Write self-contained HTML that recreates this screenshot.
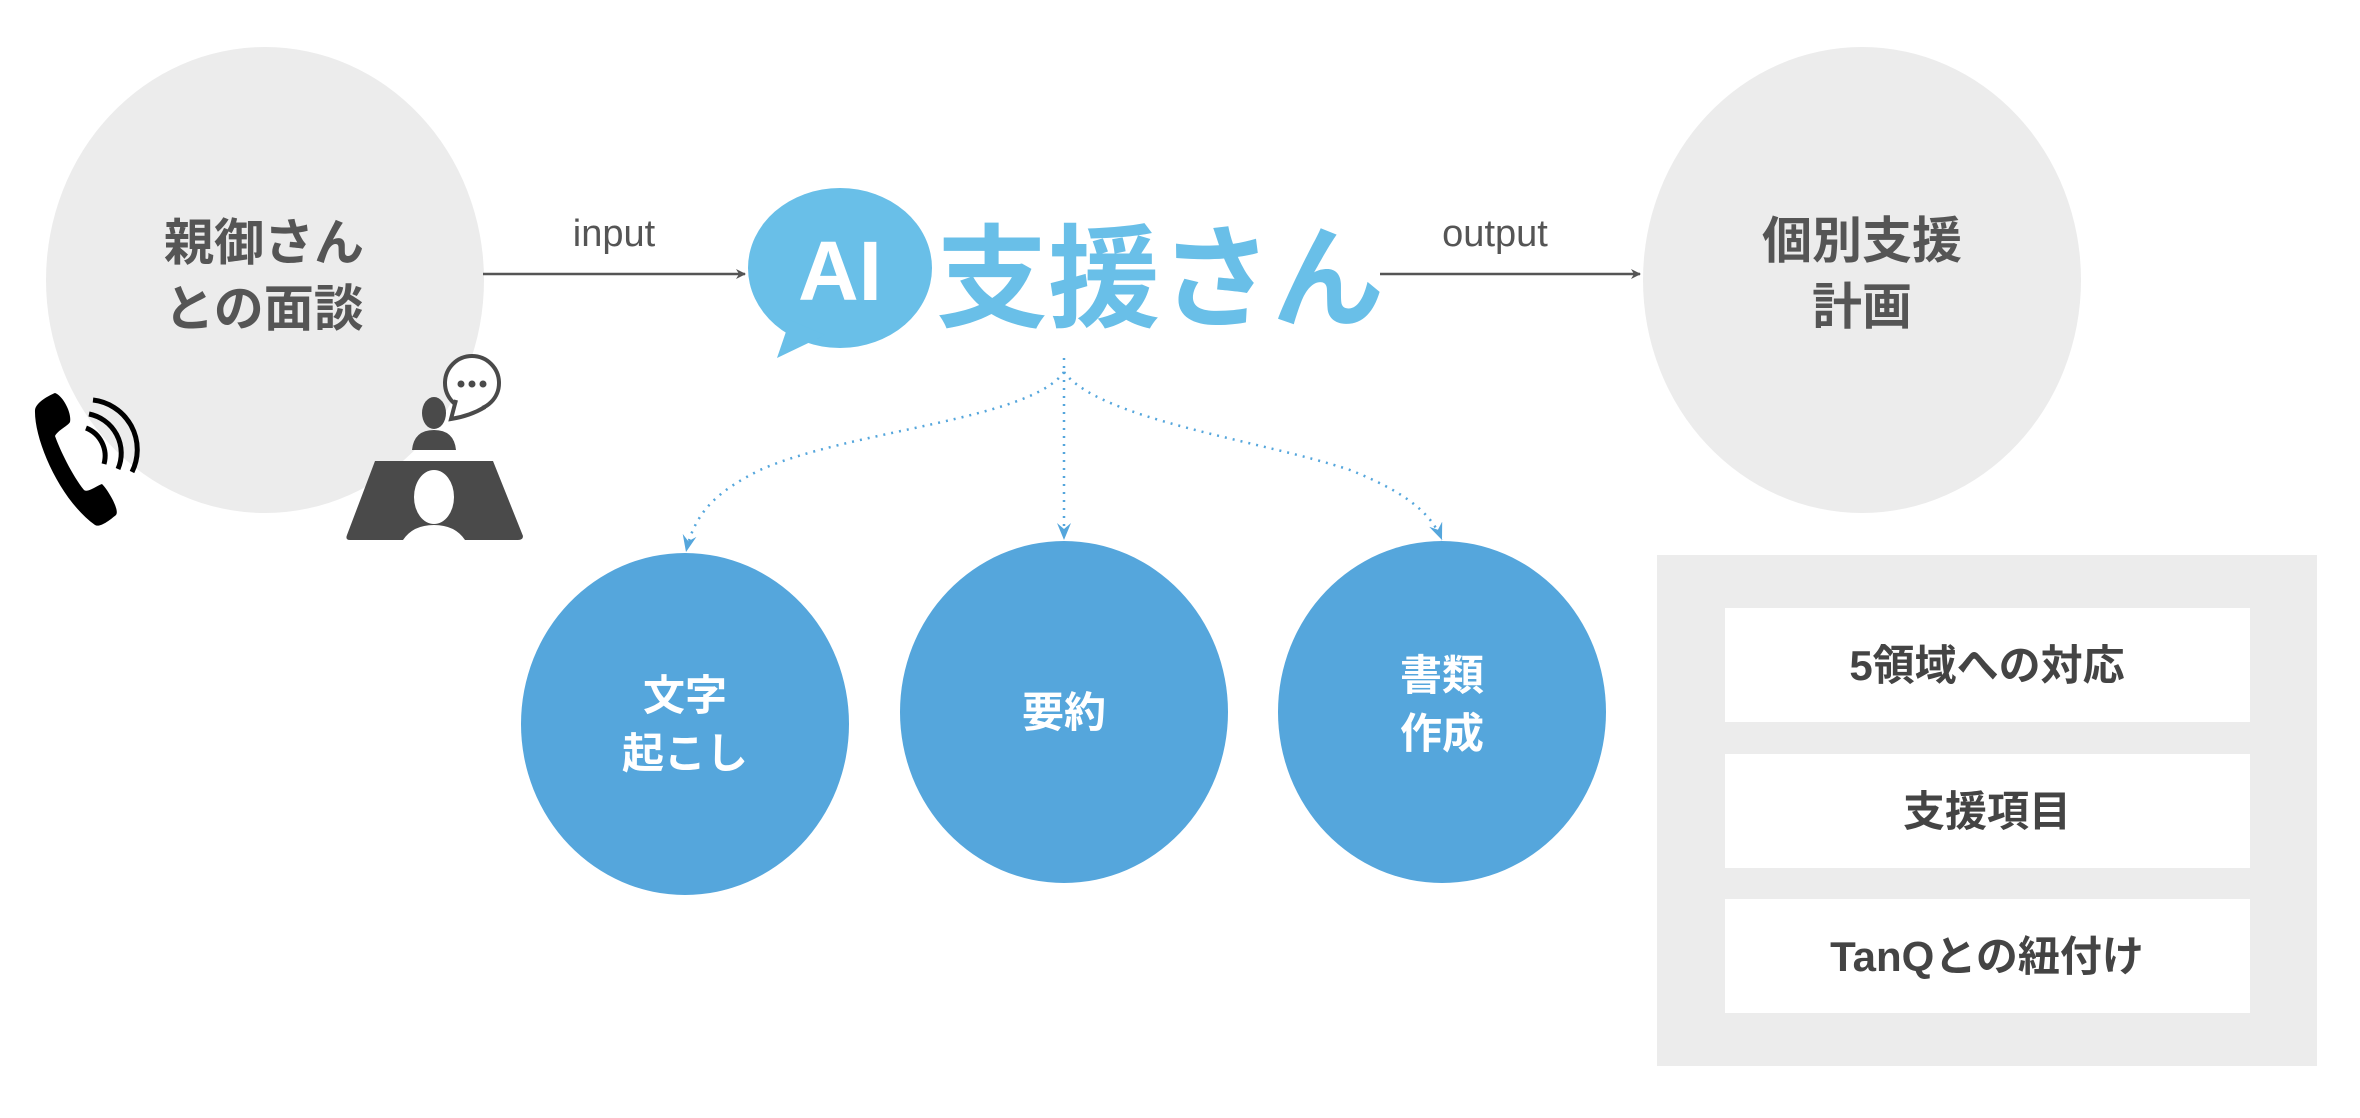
<!DOCTYPE html>
<html><head><meta charset="utf-8"><style>
html,body{margin:0;padding:0;background:#fff;}
svg{display:block;}
text{font-family:"Liberation Sans","Noto Sans CJK JP",sans-serif;}
</style></head><body>
<svg width="2360" height="1118" viewBox="0 0 2360 1118" xmlns="http://www.w3.org/2000/svg">
<defs>
<marker id="ag" markerWidth="10" markerHeight="10" refX="9" refY="5" orient="auto" markerUnits="userSpaceOnUse"><path d="M0,0 L10,5 L0,10 L3,5 Z" fill="#555"/></marker>
<marker id="ab" markerWidth="18" markerHeight="14" refX="17" refY="7" orient="auto" markerUnits="userSpaceOnUse"><path d="M0,0 L17,7 L0,14 L6,7 Z" fill="#55a6dc"/></marker>
</defs>
<ellipse cx="265" cy="280" rx="219" ry="233" fill="#ececec"/>
<text x="264" y="260" font-size="50" font-weight="bold" fill="#555" text-anchor="middle">親御さん</text>
<text x="264" y="326" font-size="50" font-weight="bold" fill="#555" text-anchor="middle">との面談</text>
<g fill="#000">
<path d="M55,393 C50,395 36,402 35,410 C34,440 60,500 95,525 C100,528 110,520 116,515 C120,510 108,490 102,484 C96,486 88,493 84,490 C72,475 60,450 55,436 C58,430 68,426 70,422 C72,412 62,395 55,393 Z"/>
<path d="M93,400 A50,50 0 0 1 132,472" stroke="#000" stroke-width="5" fill="none"/>
<path d="M89,414 A40,40 0 0 1 118,469" stroke="#000" stroke-width="5" fill="none"/>
<path d="M86,428 A30,30 0 0 1 104,464" stroke="#000" stroke-width="5" fill="none"/>
</g>
<g fill="#4a4a4a">
<circle cx="472" cy="383" r="27" fill="#fff" stroke="#4a4a4a" stroke-width="4"/>
<path d="M456,400 L451,419 Q470,416 485,407" fill="#fff" stroke="#4a4a4a" stroke-width="4"/>
<circle cx="461" cy="384" r="3.5"/><circle cx="472" cy="384" r="3.5"/><circle cx="483" cy="384" r="3.5"/>
<ellipse cx="434" cy="413" rx="12" ry="16"/>
<path d="M412,450 Q414,430 434,430 Q454,430 456,450 Z"/>
<path d="M375,461 L493,461 L523,536 Q523,540 518,540 L465,540 Q455,525 434,525 Q413,525 403,540 L350,540 Q345,540 347,535 Z"/>
<ellipse cx="434" cy="497" rx="20" ry="27" fill="#fff"/>
</g>
<line x1="483" y1="274" x2="745" y2="274" stroke="#555" stroke-width="2.5" marker-end="url(#ag)"/>
<text x="614" y="246" font-size="38" fill="#555" text-anchor="middle">input</text>
<ellipse cx="840" cy="268" rx="92" ry="80" fill="#69bfe8"/>
<path d="M790,320 L777,358 L825,335 Z" fill="#69bfe8"/>
<text x="840" y="300" font-size="84" font-weight="bold" fill="#fff" text-anchor="middle">AI</text>
<text x="1160" y="318" font-size="112" font-weight="bold" fill="#69bfe8" text-anchor="middle">支援さん</text>
<line x1="1380" y1="274" x2="1640" y2="274" stroke="#555" stroke-width="2.5" marker-end="url(#ag)"/>
<text x="1495" y="246" font-size="38" fill="#555" text-anchor="middle">output</text>
<ellipse cx="1862" cy="280" rx="219" ry="233" fill="#ececec"/>
<text x="1862" y="258" font-size="50" font-weight="bold" fill="#555" text-anchor="middle">個別支援</text>
<text x="1862" y="324" font-size="50" font-weight="bold" fill="#555" text-anchor="middle">計画</text>
<g stroke="#55a6dc" stroke-width="2.5" stroke-dasharray="2 6" fill="none">
<line x1="1064" y1="358" x2="1064" y2="368"/>
<path d="M1064,372 C1030,420 850,430 760,470 C720,490 695,510 686,552" marker-end="url(#ab)"/>
<path d="M1064,372 L1064,540" marker-end="url(#ab)"/>
<path d="M1064,372 C1100,420 1260,440 1350,470 C1400,490 1430,510 1442,540" marker-end="url(#ab)"/>
</g>
<ellipse cx="685" cy="724" rx="164" ry="171" fill="#55a6dc"/>
<ellipse cx="1064" cy="712" rx="164" ry="171" fill="#55a6dc"/>
<ellipse cx="1442" cy="712" rx="164" ry="171" fill="#55a6dc"/>
<text x="685" y="710" font-size="42" font-weight="bold" fill="#fff" text-anchor="middle">文字</text>
<text x="685" y="768" font-size="42" font-weight="bold" fill="#fff" text-anchor="middle">起こし</text>
<text x="1064" y="727" font-size="42" font-weight="bold" fill="#fff" text-anchor="middle">要約</text>
<text x="1442" y="690" font-size="42" font-weight="bold" fill="#fff" text-anchor="middle">書類</text>
<text x="1442" y="748" font-size="42" font-weight="bold" fill="#fff" text-anchor="middle">作成</text>
<rect x="1657" y="555" width="660" height="511" fill="#ececec"/>
<rect x="1725" y="608" width="525" height="114" fill="#fff"/>
<rect x="1725" y="754" width="525" height="114" fill="#fff"/>
<rect x="1725" y="899" width="525" height="114" fill="#fff"/>
<text x="1987" y="680" font-size="42" font-weight="bold" fill="#444" text-anchor="middle">5領域への対応</text>
<text x="1987" y="826" font-size="42" font-weight="bold" fill="#444" text-anchor="middle">支援項目</text>
<text x="1987" y="971" font-size="42" font-weight="bold" fill="#444" text-anchor="middle">TanQとの紐付け</text>
</svg>
</body></html>
